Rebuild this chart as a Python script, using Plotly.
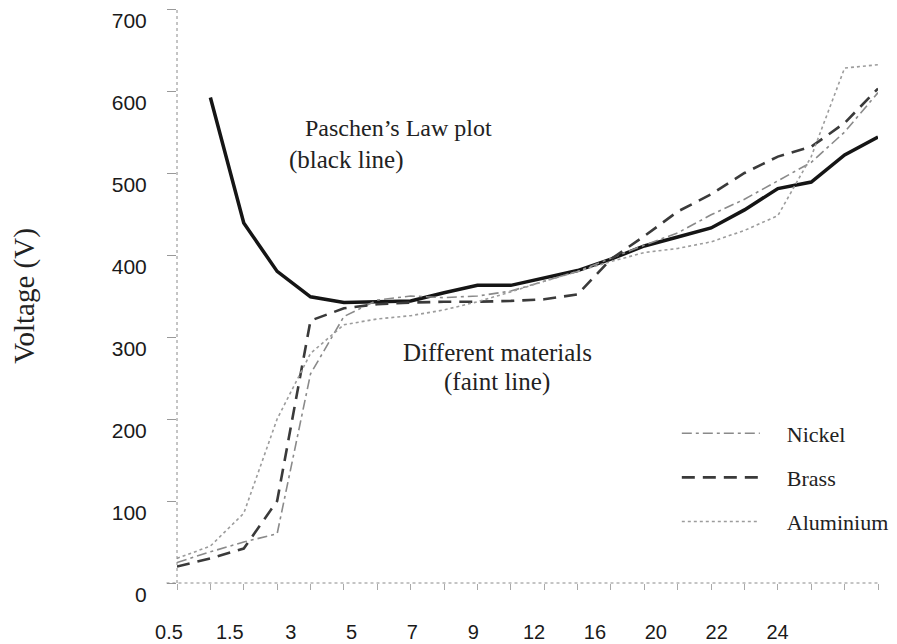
import plotly.graph_objects as go

# ---- data ----
point_index = list(range(22))          # measurement points along the x axis
tick_labels = ["0.5", "1.5", "3", "5", "7", "9", "12", "16", "20", "22", "24"]

paschen = [None, 592, 439, 380, 349, 342, 343, 344, 354, 363, 363, 372, 381, 395,
           411, 422, 433, 455, 481, 489, 522, 544]
nickel = [25, 38, 50, 60, 255, 325, 345, 350, 348, 350, 356, 368, 380, 396,
          412, 427, 449, 468, 490, 513, 550, 598]
brass = [20, 30, 42, 100, 320, 335, 340, 342, 343, 343, 344, 346, 352, 395,
         423, 453, 474, 500, 520, 532, 561, 603]
aluminium = [30, 45, 85, 200, 280, 315, 322, 326, 333, 343, 355, 368, 380, 392,
             403, 408, 416, 430, 448, 520, 628, 632]

y_ticks = [0, 100, 200, 300, 400, 500, 600, 700]

# ---- layout helpers (label placement along the axis) ----
label_first = -0.24      # position of first label in point-index units
label_step = 1.823       # spacing of labels in point-index units
label_shift_px = 10      # labels drawn this many px left of their tick value
px_per_unit = 33.4
tickvals = [label_first + label_shift_px / px_per_unit + k * label_step
            for k in range(len(tick_labels))]

serif = "Liberation Serif, Times New Roman, serif"
sans = "Liberation Sans, Arial, sans-serif"
pad = "\u00a0" * 4

fig = go.Figure()
fig.add_trace(go.Scatter(x=point_index, y=paschen, mode="lines", showlegend=False,
                         line=dict(color="#151515", width=3.5)))
fig.add_trace(go.Scatter(x=point_index, y=nickel, mode="lines", name=pad + "Nickel",
                         legendgroup="n",
                         line=dict(color="#8a8a8a", width=1.6, dash="10px,4px,3px,4px")))
fig.add_trace(go.Scatter(x=point_index, y=brass, mode="lines", name=pad + "Brass",
                         legendgroup="b",
                         line=dict(color="#3a3a3a", width=2.6, dash="13px,8px")))
fig.add_trace(go.Scatter(x=point_index, y=aluminium, mode="lines", name=pad + "Aluminium",
                         legendgroup="a",
                         line=dict(color="#9c9c9c", width=1.6, dash="dot")))

fig.update_layout(
    width=889, height=636,
    margin=dict(l=169, r=19, t=1, b=61),
    paper_bgcolor="white", plot_bgcolor="white",
    font=dict(family=sans, color="#1a1a1a"),
    legend=dict(x=0.713, y=0.297, xanchor="left", yanchor="top",
                font=dict(family=serif, size=22, color="#222"),
                itemwidth=78, tracegroupgap=12.5, bgcolor="rgba(0,0,0,0)"),
    annotations=[
        dict(text="Paschen\u2019s Law plot", x=0.1797, y=0.7927, xref="paper", yref="paper",
             xanchor="left", yanchor="middle", showarrow=False,
             font=dict(family=serif, size=24, color="#222")),
        dict(text="(black line)", x=0.1569, y=0.7369, xref="paper", yref="paper",
             xanchor="left", yanchor="middle", showarrow=False,
             font=dict(family=serif, size=25, color="#222")),
        dict(text="Different materials", x=0.4565, y=0.4007, xref="paper", yref="paper",
             xanchor="center", yanchor="middle", showarrow=False,
             font=dict(family=serif, size=25, color="#222")),
        dict(text="(faint line)", x=0.4565, y=0.3502, xref="paper", yref="paper",
             xanchor="center", yanchor="middle", showarrow=False,
             font=dict(family=serif, size=25, color="#222")),
    ],
    shapes=[
        dict(type="line", xref="paper", yref="paper", x0=0, x1=0, y0=0, y1=1,
             line=dict(color="#8a8a8a", width=1, dash="dot")),
        dict(type="line", xref="paper", yref="paper", x0=-0.015, x1=1.003, y0=0, y1=0,
             line=dict(color="#8a8a8a", width=1, dash="dot")),
    ],
)

fig.update_xaxes(
    range=[0, 21], showgrid=False, zeroline=False, showline=False, automargin=False,
    tickmode="array", tickvals=tickvals, ticktext=tick_labels,
    ticks="outside", ticklen=0, tickcolor="white",
    ticklabelshift=-label_shift_px, ticklabelstandoff=31,
    tickfont=dict(family=sans, size=20, color="#1a1a1a"),
    minor=dict(tickmode="linear", tick0=0, dtick=1, ticks="outside",
               ticklen=6, tickcolor="#aaaaaa", showgrid=False),
)
fig.update_yaxes(
    range=[0, 700], showgrid=False, zeroline=False, showline=False, automargin=False,
    tickmode="array", tickvals=y_ticks,
    ticks="outside", ticklen=9, tickcolor="#999999",
    ticklabelshift=12, ticklabelstandoff=16, ticklabeloverflow="allow",
    tickfont=dict(family=sans, size=21, color="#1a1a1a"),
    title=dict(text="Voltage (V)", standoff=70,
               font=dict(family=serif, size=29, color="#222")),
)

fig.write_html("out.html")
